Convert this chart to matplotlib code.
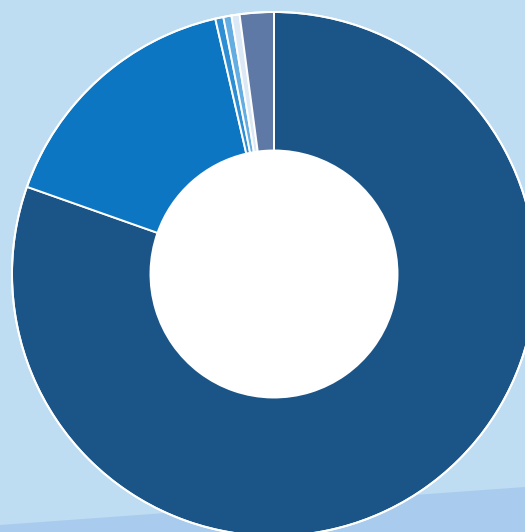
import matplotlib
matplotlib.use("Agg")
import matplotlib.pyplot as plt
from matplotlib.patches import Circle, Polygon

# share of each slice, clockwise from 12 o'clock
labels = ["A", "B", "C", "D", "E", "F"]
values = [80.4, 16.0, 0.5, 0.5, 0.5, 2.1]
colors = ["#1b5587", "#0d76c2", "#2e8ed4", "#63ade2", "#dbe9f6", "#5e79a6"]

fig = plt.figure(figsize=(5.25, 5.32), dpi=100)
fig.patch.set_facecolor("#bedcf2")
ax = fig.add_axes([0, 0, 1, 1])

# slightly darker band at the bottom of the backdrop
band = Polygon([(0, 0), (0, 7), (525, 45), (525, 0)], closed=True,
               facecolor="#a9ccee", edgecolor="none", zorder=0)
ax.add_patch(band)

cx, cy = 274, 258
R, r = 262, 123.5
ax.pie(values, colors=colors, startangle=90, counterclock=False,
       center=(cx, cy), radius=R, frame=True,
       wedgeprops=dict(width=R - r, edgecolor="white", linewidth=1.4))
ax.add_patch(Circle((cx, cy), R, facecolor="none", edgecolor="white", lw=1.4, zorder=3))
ax.add_patch(Circle((cx, cy), r, facecolor="white", edgecolor="none", zorder=4))

ax.set_xlim(0, 525)
ax.set_ylim(0, 532)
ax.set_aspect("equal")
ax.axis("off")

fig.savefig("out.png", dpi=100, facecolor=fig.get_facecolor())
